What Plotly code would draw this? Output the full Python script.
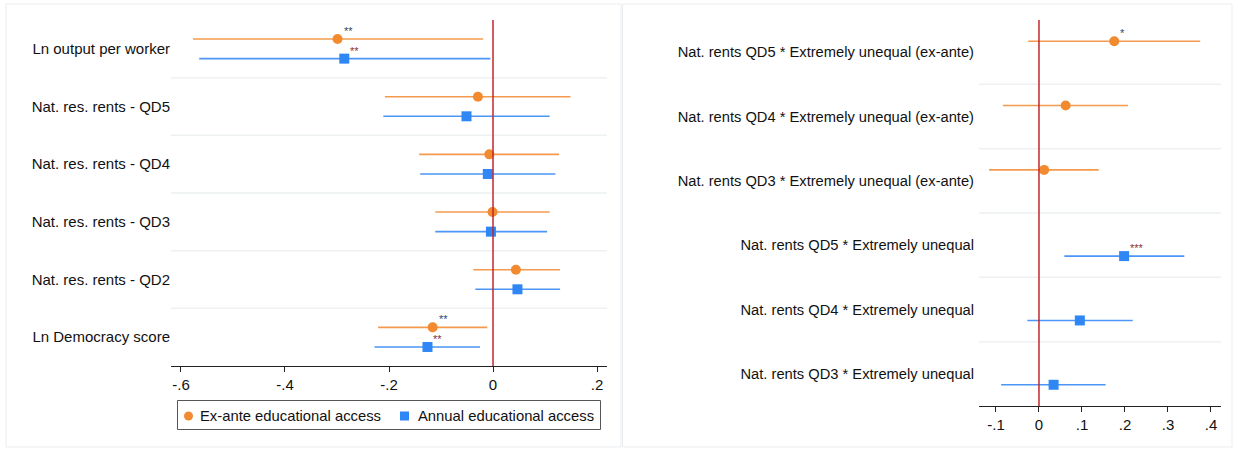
import plotly.graph_objects as go

# Left panel: baseline coefficients, two educational-access measures
left_labels = [
    "Ln output per worker",
    "Nat. res. rents - QD5",
    "Nat. res. rents - QD4",
    "Nat. res. rents - QD3",
    "Nat. res. rents - QD2",
    "Ln Democracy score",
]
left_exante_coef = [-0.299, -0.029, -0.007, -0.001, 0.044, -0.116]
left_exante_lo = [-0.577, -0.208, -0.142, -0.111, -0.038, -0.221]
left_exante_hi = [-0.019, 0.149, 0.127, 0.109, 0.129, -0.011]
left_exante_stars = ["**", "", "", "", "", "**"]

left_annual_coef = [-0.286, -0.051, -0.010, -0.004, 0.047, -0.126]
left_annual_lo = [-0.565, -0.211, -0.140, -0.111, -0.034, -0.228]
left_annual_hi = [-0.005, 0.109, 0.120, 0.104, 0.129, -0.025]
left_annual_stars = ["**", "", "", "", "", "**"]

left_tickvals = [-0.6, -0.4, -0.2, 0, 0.2]
left_ticktext = ["-.6", "-.4", "-.2", "0", ".2"]

# Right panel: interaction terms
right_labels = [
    "Nat. rents QD5 * Extremely unequal (ex-ante)",
    "Nat. rents QD4 * Extremely unequal (ex-ante)",
    "Nat. rents QD3 * Extremely unequal (ex-ante)",
    "Nat. rents QD5 * Extremely unequal",
    "Nat. rents QD4 * Extremely unequal",
    "Nat. rents QD3 * Extremely unequal",
]
right_exante_rows = [0, 1, 2]
right_exante_coef = [0.175, 0.062, 0.012]
right_exante_lo = [-0.025, -0.084, -0.116]
right_exante_hi = [0.375, 0.207, 0.139]
right_exante_stars = ["*", "", ""]

right_annual_rows = [3, 4, 5]
right_annual_coef = [0.198, 0.095, 0.034]
right_annual_lo = [0.059, -0.027, -0.088]
right_annual_hi = [0.338, 0.218, 0.155]
right_annual_stars = ["***", "", ""]

right_tickvals = [-0.1, 0, 0.1, 0.2, 0.3, 0.4]
right_ticktext = ["-.1", "0", ".1", ".2", ".3", ".4"]

legend_names = ["Ex-ante educational access", "Annual educational access"]

W, H = 1233, 449
FONT = "Liberation Sans, Arial, Helvetica, sans-serif"
FS = 15
ORANGE = "#F28A30"
ORANGE_LINE = "#F39A4E"
BLUE = "#2F86F5"
BLUE_LINE = "#4B96F6"
STAR_NAVY = "#2E4A6B"
STAR_RED = "#8B2F3C"
ZERO_RED = "#C1272D"
SEP = "#EDF1F2"
OFFSET = 0.17


def px_x(p):
    return p / W


def px_y(p):
    return 1 - p / H


fig = go.Figure()


def add_series(coef, lo, hi, rows, name, color, line_color, symbol, size, xa, ya):
    fig.add_trace(go.Scatter(
        x=coef, y=rows, mode="markers", name=name,
        marker=dict(color=color, symbol=symbol, size=size, line=dict(width=0)),
        error_x=dict(type="data", symmetric=False,
                     array=[h - c for h, c in zip(hi, coef)],
                     arrayminus=[c - l for c, l in zip(coef, lo)],
                     width=0, thickness=1.6, color=line_color),
        xaxis=xa, yaxis=ya, showlegend=False,
    ))


def add_stars(coef, rows, stars, color, xa, ya):
    for c, r, s in zip(coef, rows, stars):
        if s:
            fig.add_annotation(
                x=c, y=r, xref=xa, yref=ya, text=s, showarrow=False,
                xanchor="left", yanchor="middle", xshift=4, yshift=8,
                font=dict(family=FONT, size=11, color=color),
            )


rows_left = list(range(len(left_labels)))
ex_rows_left = [r - OFFSET for r in rows_left]
an_rows_left = [r + OFFSET for r in rows_left]

add_series(left_exante_coef, left_exante_lo, left_exante_hi, ex_rows_left,
           legend_names[0], ORANGE, ORANGE_LINE, "circle", 10, "x", "y")
add_series(left_annual_coef, left_annual_lo, left_annual_hi, an_rows_left,
           legend_names[1], BLUE, BLUE_LINE, "square", 10, "x", "y")
add_stars(left_exante_coef, ex_rows_left, left_exante_stars, STAR_NAVY, "x", "y")
add_stars(left_annual_coef, an_rows_left, left_annual_stars, STAR_RED, "x", "y")

ex_rows_right = [r - OFFSET for r in right_exante_rows]
an_rows_right = [r + OFFSET for r in right_annual_rows]
add_series(right_exante_coef, right_exante_lo, right_exante_hi, ex_rows_right,
           legend_names[0], ORANGE, ORANGE_LINE, "circle", 10, "x2", "y2")
add_series(right_annual_coef, right_annual_lo, right_annual_hi, an_rows_right,
           legend_names[1], BLUE, BLUE_LINE, "square", 10, "x2", "y2")
add_stars(right_exante_coef, ex_rows_right, right_exante_stars, STAR_NAVY, "x2", "y2")
add_stars(right_annual_coef, an_rows_right, right_annual_stars, STAR_RED, "x2", "y2")

shapes = []
# Row separators
for xa, n in (("x", len(left_labels)), ("x2", len(right_labels))):
    ya = "y" if xa == "x" else "y2"
    for k in range(n - 1):
        shapes.append(dict(type="line", xref=f"{xa} domain", yref=ya,
                           x0=0, x1=1, y0=k + 0.5, y1=k + 0.5,
                           line=dict(color=SEP, width=1.5), layer="below"))
# Zero reference lines
shapes.append(dict(type="line", xref="x", yref="y domain", x0=0, x1=0, y0=0, y1=1,
                   line=dict(color=ZERO_RED, width=1.5)))
shapes.append(dict(type="line", xref="x2", yref="y2 domain", x0=0, x1=0, y0=0, y1=1,
                   line=dict(color=ZERO_RED, width=1.5)))
# Panel frames
shapes.append(dict(type="rect", xref="paper", yref="paper",
                   x0=px_x(6), x1=px_x(621), y0=px_y(447), y1=px_y(4),
                   line=dict(color="#E9EDEF", width=1), layer="below"))
shapes.append(dict(type="rect", xref="paper", yref="paper",
                   x0=px_x(622.5), x1=px_x(1232), y0=px_y(447), y1=px_y(4),
                   line=dict(color="#E9EDEF", width=1), layer="below"))

# Legend box below the left panel
LEG_Y = px_y(416)
shapes.append(dict(type="rect", xref="paper", yref="paper",
                   x0=px_x(177.5), x1=px_x(600.5), y0=px_y(429.5), y1=px_y(400.5),
                   line=dict(color="#555555", width=1), fillcolor="white"))
shapes.append(dict(type="circle", xref="paper", yref="paper",
                   xsizemode="pixel", ysizemode="pixel",
                   xanchor=px_x(188.5), yanchor=LEG_Y, x0=-4.5, x1=4.5, y0=-4.5, y1=4.5,
                   line=dict(width=0), fillcolor=ORANGE))
shapes.append(dict(type="rect", xref="paper", yref="paper",
                   xsizemode="pixel", ysizemode="pixel",
                   xanchor=px_x(404.5), yanchor=LEG_Y, x0=-4.5, x1=4.5, y0=-4.5, y1=4.5,
                   line=dict(width=0), fillcolor=BLUE))
for name, xpx in zip(legend_names, (198, 416)):
    fig.add_annotation(x=px_x(xpx), y=LEG_Y, xref="paper", yref="paper",
                       text=name, showarrow=False, xanchor="left", yanchor="middle",
                       font=dict(family=FONT, size=14.8, color="#111111"))

axis_common = dict(
    showgrid=False, zeroline=False, showline=True, linecolor="#222222",
    linewidth=1, ticks="outside", ticklen=5, tickcolor="#222222",
    tickfont=dict(family=FONT, size=FS, color="#111111"),
)
yaxis_common = dict(
    showgrid=False, zeroline=False, showline=False, ticks="",
    fixedrange=True,
)

fig.update_layout(
    width=W, height=H, autosize=False,
    margin=dict(l=0, r=0, t=0, b=0),
    paper_bgcolor="white", plot_bgcolor="white",
    font=dict(family=FONT, size=FS, color="#111111"),
    showlegend=False,
    xaxis=dict(domain=[px_x(171), px_x(607)], range=[-0.6192, 0.2192],
               tickvals=left_tickvals, ticktext=left_ticktext, anchor="y",
               **axis_common),
    yaxis=dict(domain=[px_y(366), px_y(20)], range=[5.5, -0.5],
               tickvals=rows_left, ticktext=left_labels, anchor="x",
               tickfont=dict(family=FONT, size=FS, color="#111111"),
               **yaxis_common),
    xaxis2=dict(domain=[px_x(979), px_x(1221)], range=[-0.1395, 0.4233],
                tickvals=right_tickvals, ticktext=right_ticktext, anchor="y2",
                **axis_common),
    yaxis2=dict(domain=[px_y(406), px_y(20)], range=[5.5, -0.5],
                tickvals=list(range(len(right_labels))), ticktext=right_labels,
                anchor="x2", ticklabelstandoff=4,
                tickfont=dict(family=FONT, size=14.7, color="#111111"),
                **yaxis_common),
    shapes=shapes,
)

fig.write_html("out.html")
